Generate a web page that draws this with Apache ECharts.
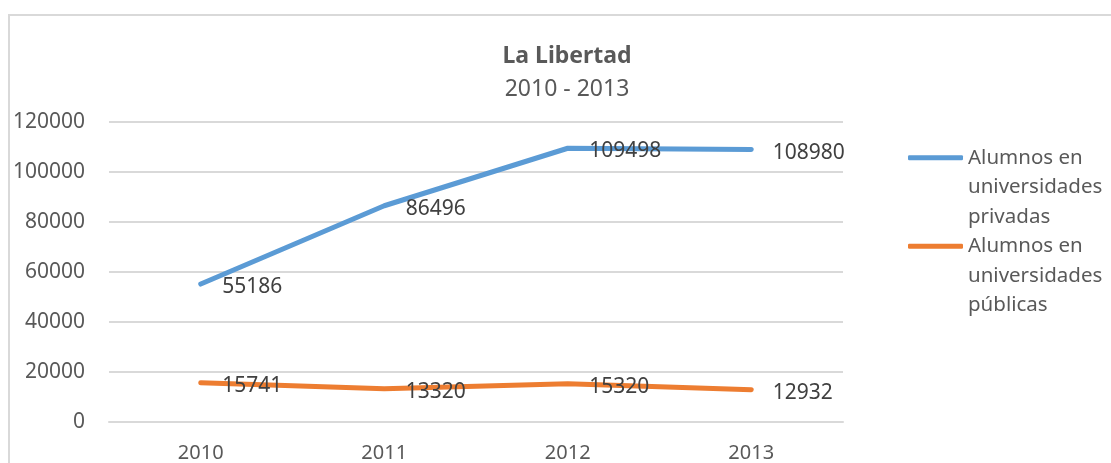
<!DOCTYPE html>
<html>
<head>
<meta charset="utf-8">
<script src="https://cdn.jsdelivr.net/npm/echarts@6/dist/echarts.min.js"></script>
<style>
  html, body { margin: 0; padding: 0; background: #fff; overflow: hidden; }
  #frame { position: absolute; left: 8px; top: 14px; width: 1200px; height: 600px; border: 2px solid #d9d9d9; }
  #container { position: absolute; left: 0; top: 0; width: 1111px; height: 463px; }
</style>
</head>
<body>
<div id="frame"></div>
<div id="container"></div>
<script>
var years = ['2010', '2011', '2012', '2013'];
var privadas = [55186, 86496, 109498, 108980]; // Alumnos en universidades privadas
var publicas = [15741, 13320, 15320, 12932];   // Alumnos en universidades públicas
var seriesNames = ['Alumnos en universidades privadas', 'Alumnos en universidades públicas'];
var legendLines = {
  'Alumnos en universidades privadas': ['Alumnos en', 'universidades', 'privadas'],
  'Alumnos en universidades públicas': ['Alumnos en', 'universidades', 'públicas']
};

var font = 'Noto Sans';
var dom = document.getElementById('container');
var myChart = echarts.init(dom);

var option = {
  backgroundColor: 'transparent',
  animation: false,
  textStyle: { fontFamily: font },
  title: {
    text: 'La Libertad',
    subtext: '2010 - 2013',
    left: 567,
    top: 45,
    padding: 0,
    textAlign: 'center',
    itemGap: 10,
    textStyle: { fontFamily: font, fontSize: 23, fontWeight: 'bold', color: '#595959' },
    subtextStyle: { fontFamily: font, fontSize: 23, color: '#595959' }
  },
  legend: {
    orient: 'vertical',
    left: 908,
    top: 84,
    padding: 0,
    itemWidth: 55,
    itemHeight: 5,
    itemGap: -59,
    icon: 'roundRect',
    // two blank lines before the text keep the icon level with the first line
    formatter: function (name) {
      return '\n\n' + legendLines[name].join('\n');
    },
    textStyle: {
      fontFamily: font,
      fontSize: 20.5,
      color: '#595959',
      lineHeight: 29.5
    },
    data: seriesNames
  },
  grid: {
    left: 109,
    right: 268,
    top: 122,
    bottom: 40
  },
  xAxis: {
    type: 'category',
    data: years,
    boundaryGap: true,
    axisLine: { lineStyle: { color: '#d9d9d9', width: 2 } },
    axisTick: { show: false },
    axisLabel: { color: '#595959', fontSize: 20, margin: 21 }
  },
  yAxis: {
    type: 'value',
    min: 0,
    max: 120000,
    interval: 20000,
    axisLine: { show: false },
    axisTick: { show: false },
    axisLabel: { color: '#595959', fontSize: 21, margin: 24, formatter: function (v) { return String(v); } },
    splitLine: { lineStyle: { color: '#d9d9d9', width: 2 } }
  },
  series: [
    {
      name: seriesNames[0],
      type: 'line',
      data: privadas,
      symbol: 'circle',
      symbolSize: 1,
      color: '#5b9bd5',
      lineStyle: { width: 5, cap: 'round', join: 'round' },
      label: { show: true, position: 'right', distance: 21, offset: [0, 3], fontSize: 21, color: '#404040' }
    },
    {
      name: seriesNames[1],
      type: 'line',
      data: publicas,
      symbol: 'circle',
      symbolSize: 1,
      color: '#ed7d31',
      lineStyle: { width: 5, cap: 'round', join: 'round' },
      label: { show: true, position: 'right', distance: 21, offset: [0, 3], fontSize: 21, color: '#404040' }
    }
  ]
};

myChart.setOption(option);
</script>
</body>
</html>
